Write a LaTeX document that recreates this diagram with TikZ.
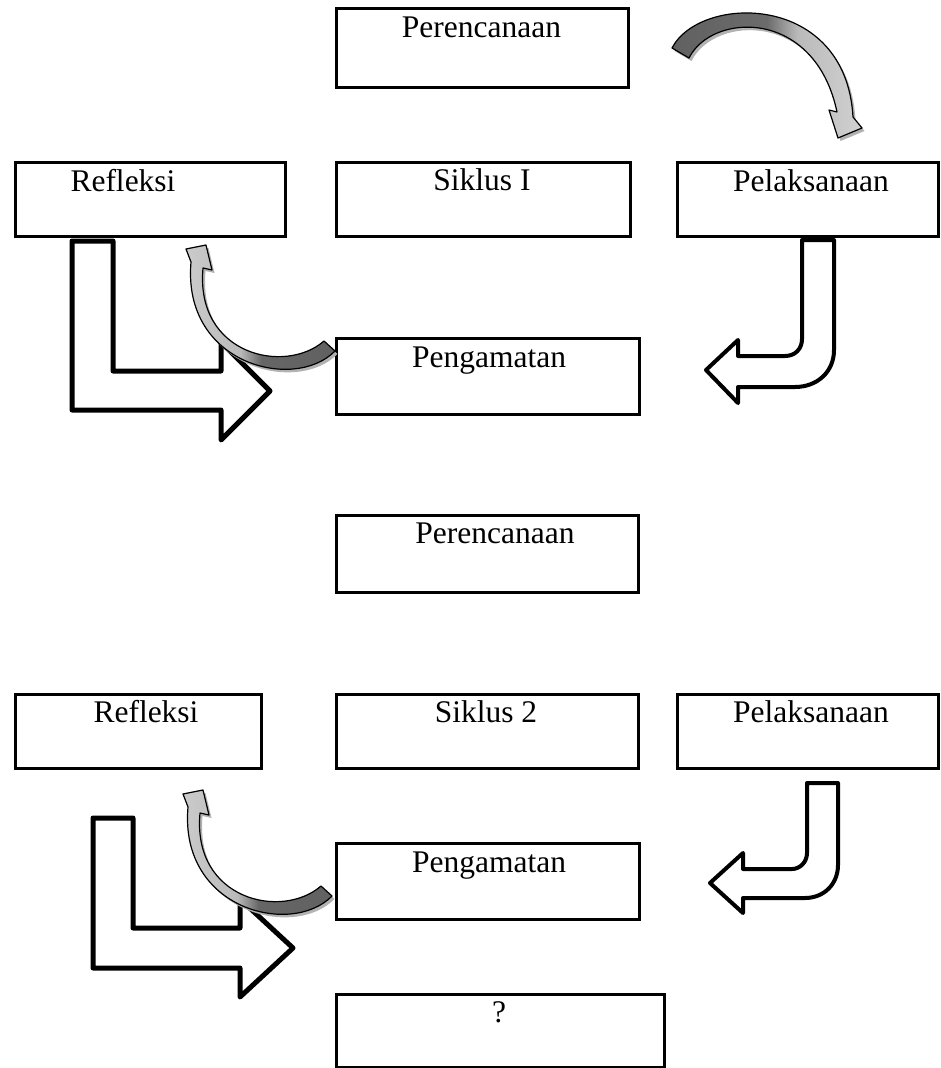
\documentclass[tikz,border=0pt]{standalone}
\usepackage{fontspec}
\setmainfont{Liberation Serif}
\pgfdeclarehorizontalshading{darklight}{100bp}{color(0bp)=(black!62); color(25bp)=(black!62); color(50bp)=(black!58); color(58bp)=(black!27); color(75bp)=(black!18); color(100bp)=(black!18)}
\pgfdeclarehorizontalshading{lightdark}{100bp}{color(0bp)=(black!20); color(25bp)=(black!20); color(44bp)=(black!27); color(51bp)=(black!60); color(75bp)=(black!62); color(100bp)=(black!62)}
\tikzset{
  box/.style={draw=black, line width=2.6pt, fill=white, inner sep=0pt, anchor=north west},
  lbl/.style={inner sep=0pt, anchor=base, font=\fontsize{31.5pt}{36pt}\selectfont},
  blockL/.style={draw=black, line width=5pt, fill=white, line join=round},
  blockJ/.style={draw=black, line width=4pt, fill=white, line join=round},
  curvshadow/.style={fill=black!30},
  curvarrow/.style={draw=black, line width=1.2pt, line join=round}
}
\newcommand\arcTop{(672,48) .. controls (700,-6) and (846,-8) .. (853,117) -- (862,128) -- (838,138) -- (829,110) -- (837,112) .. controls (815,8) and (712,12) .. (689,58) -- cycle}
\newcommand\arcLow{(324,341) .. controls (285,375) and (195,355) .. (203,268) -- (212,270) -- (206,245) -- (186,249) -- (191,262) .. controls (182,365) and (295,392) .. (335,351) -- cycle}
\begin{document}
\begin{tikzpicture}[x=1pt,y=-1pt]
\useasboundingbox (0,0) rectangle (940,1068);
\fill[white] (0,0) rectangle (940,1068);

% ---- cycle 1 boxes
\node[box, minimum width=292pt, minimum height=79pt] (plan1) at (335,7) {};
\node[box, minimum width=270pt, minimum height=74pt] (refl1) at (14,161) {};
\node[box, minimum width=294pt, minimum height=74pt] (sik1) at (335,161) {};
\node[box, minimum width=261pt, minimum height=74pt] (pel1) at (676,161) {};
\node[box, minimum width=303pt, minimum height=76pt] (peng1) at (335,337) {};

\node[lbl] (tplan1) at (481.5,37) {Perencanaan};
\node[lbl] (trefl1) at (123,191) {Refleksi};
\node[lbl] (tsik1) at (482,190) {Siklus I};
\node[lbl] (tpel1) at (811,191) {Pelaksanaan};
\node[lbl] (tpeng1) at (489,367) {Pengamatan};

% ---- cycle 2 boxes
\node[box, minimum width=302pt, minimum height=77pt] (plan2) at (335,514) {};
\node[box, minimum width=246pt, minimum height=74pt] (refl2) at (14,693) {};
\node[box, minimum width=302pt, minimum height=74pt] (sik2) at (335,693) {};
\node[box, minimum width=261pt, minimum height=74pt] (pel2) at (676,693) {};
\node[box, minimum width=303pt, minimum height=76pt] (peng2) at (335,842) {};
\node[box, minimum width=328pt, minimum height=73pt] (q) at (335,993) {};

\node[lbl] (tplan2) at (495,543) {Perencanaan};
\node[lbl] (trefl2) at (146,722) {Refleksi};
\node[lbl] (tsik2) at (486,722) {Siklus 2};
\node[lbl] (tpel2) at (811,722) {Pelaksanaan};
\node[lbl] (tpeng2) at (489,872) {Pengamatan};
\node[lbl] (tq) at (499,1022) {?};

% ---- top curved arrow (Perencanaan -> Pelaksanaan)
\begin{scope}[shift={(2.5,3)}]\fill[curvshadow] \arcTop;\end{scope}
\shadedraw[curvarrow, shading=darklight] \arcTop;

% ---- L arrow 1 (Refleksi -> Pengamatan)
\draw[blockL] (72,241) -- (113,241) -- (113,371) -- (221,371) -- (221,342) -- (270,391) -- (221,440) -- (221,410) -- (72,410) -- cycle;

% ---- curved arrow 1 (Pengamatan -> Refleksi)
\begin{scope}[shift={(2.5,3)}]\fill[curvshadow] \arcLow;\end{scope}
\shadedraw[curvarrow, shading=lightdark] \arcLow;

% ---- J arrow 1 (Pelaksanaan -> Pengamatan)
\draw[blockJ] (802,240) -- (834,240) -- (834,350) .. controls (834,372) and (817,387) .. (795,387) -- (738,387) -- (738,403) -- (706,370) -- (738,340) -- (738,356) -- (785,356) .. controls (795,356) and (802,349) .. (802,339) -- cycle;

% ---- L arrow 2
\draw[blockL] (93,818) -- (133,818) -- (133,928) -- (240,928) -- (240,899) -- (293,948) -- (240,997) -- (240,968) -- (93,968) -- cycle;

% ---- curved arrow 2
\begin{scope}[shift={(-0.5,548)}]\fill[curvshadow] \arcLow;\end{scope}
\begin{scope}[shift={(-3,545)}]\shadedraw[curvarrow, shading=lightdark] \arcLow;\end{scope}

% ---- J arrow 2
\draw[blockJ] (807,783) -- (838,783) -- (838,865) .. controls (838,884) and (824,898) .. (805,898) -- (743,898) -- (743,913) -- (710,883) -- (743,853) -- (743,869) -- (792,869) .. controls (800,869) and (807,862) .. (807,853) -- cycle;
\end{tikzpicture}
\end{document}
